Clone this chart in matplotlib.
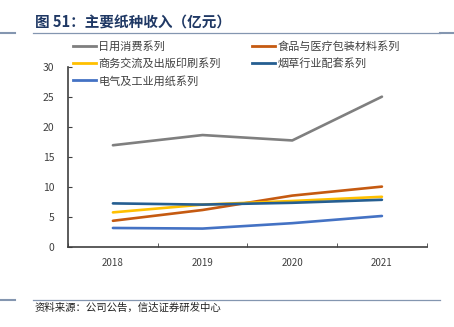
import matplotlib
matplotlib.use("Agg")
import matplotlib.pyplot as plt
from matplotlib.lines import Line2D

plt.rcParams['font.family'] = ['Noto Sans CJK SC', 'DejaVu Sans']

years = ['2018', '2019', '2020', '2021']
# 收入（亿元）
daily = [16.9, 18.6, 17.7, 25.0]
food_med = [4.3, 6.1, 8.5, 10.0]
business = [5.7, 7.0, 7.6, 8.3]
tobacco = [7.2, 7.0, 7.3, 7.8]
electric = [3.1, 3.0, 3.9, 5.1]

names = ['日用消费系列', '食品与医疗包装材料系列', '商务交流及出版印刷系列',
         '烟草行业配套系列', '电气及工业用纸系列']
colors = ['#7f7f7f', '#c55a11', '#ffc000', '#255e91', '#4472c4']
series = [daily, food_med, business, tobacco, electric]

fig = plt.figure(figsize=(4.54, 3.27), dpi=100)
ax = fig.add_axes([0.150, 0.246, 0.790, 0.550])

x = range(len(years))
for vals, c in zip(series, colors):
    ax.plot(x, vals, color=c, lw=1.9, solid_capstyle='round')

ax.set_xlim(-0.5, 3.5)
ax.set_ylim(0, 30)
ax.set_yticks([0, 5, 10, 15, 20, 25, 30])
ax.set_xticks(list(x))
ax.set_xticklabels(years)
ax.set_xticks([-0.5, 0.5, 1.5, 2.5, 3.5], minor=True)
ax.tick_params(axis='x', which='major', length=0, pad=8, labelsize=7, colors='#404040')
ax.tick_params(axis='x', which='minor', direction='in', length=3, color='#404040')
ax.tick_params(axis='y', direction='in', length=3, labelsize=7.5, colors='#404040', pad=10)
for s in ['top', 'right']:
    ax.spines[s].set_visible(False)
for s in ['left', 'bottom']:
    ax.spines[s].set_color('#404040')
    ax.spines[s].set_linewidth(1.2)

# legend: left column 日用/商务/电气, right column 食品/烟草
order = [0, 2, 4, 1, 3]
handles = [Line2D([], [], color=colors[i], lw=2) for i in order]
labels = [names[i] for i in order]
fig.legend(handles, labels, ncol=2, loc='upper left', bbox_to_anchor=(0.143, 0.899),
           frameon=False, fontsize=8, handlelength=2.1, handletextpad=0.2,
           columnspacing=2.8, labelspacing=0.6, labelcolor='#404040',
           borderpad=0.2)

fig.text(0.077, 0.932, '图 51：主要纸种收入（亿元）', fontsize=10.5, fontweight='bold',
         color='#1f3864', va='center')
rule = '#8496b0'
fig.add_artist(Line2D([0.073, 0.970], [0.900, 0.900], color=rule, lw=0.9))
fig.add_artist(Line2D([0.0, 0.033], [0.898, 0.898], color=rule, lw=1.5))
fig.add_artist(Line2D([0.970, 1.0], [0.898, 0.898], color=rule, lw=1.5))
fig.add_artist(Line2D([0.073, 0.970], [0.083, 0.083], color=rule, lw=0.9))
fig.add_artist(Line2D([0.0, 0.033], [0.083, 0.083], color=rule, lw=1.5))
fig.text(0.077, 0.058, '资料来源：公司公告，信达证券研发中心', fontsize=7.5,
         color='#222222', va='center')

fig.savefig('out.png', dpi=100)
